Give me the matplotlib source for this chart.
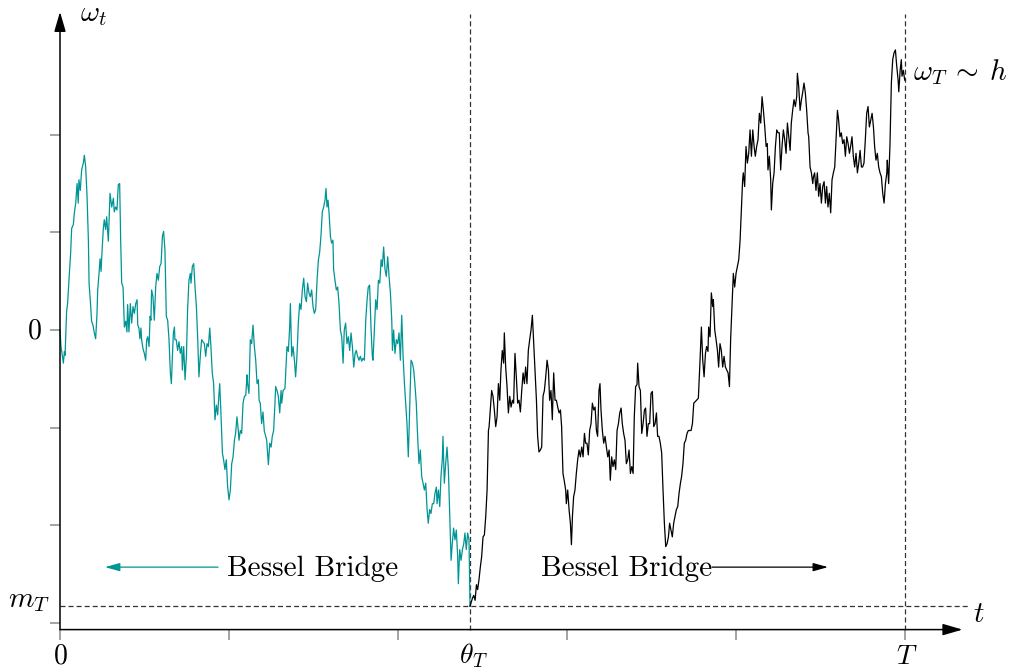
import matplotlib
matplotlib.use('Agg')
import matplotlib.pyplot as plt

plt.rcParams['mathtext.fontset'] = 'cm'
plt.rcParams['lines.scale_dashes'] = False

#----------------------------------------------------------------------------
# values (t in tick units, T = 5 ; omega in tick units)

T = 5.0
theta_T = 2.426
m_T = -2.83

# path before the minimum (teal)
t_before = [0.000, 0.006, 0.014, 0.020, 0.026, 0.030, 0.039, 0.045, 0.053, 0.063,
            0.069, 0.079, 0.085, 0.093, 0.101, 0.108, 0.112, 0.120, 0.128, 0.138,
            0.144, 0.152, 0.160, 0.168, 0.172, 0.179, 0.187, 0.195, 0.203, 0.211,
            0.219, 0.223, 0.231, 0.237, 0.243, 0.247, 0.256, 0.262, 0.270, 0.276,
            0.286, 0.296, 0.306, 0.316, 0.321, 0.329, 0.337, 0.345, 0.353, 0.359,
            0.365, 0.373, 0.381, 0.389, 0.396, 0.400, 0.408, 0.416, 0.424, 0.432,
            0.440, 0.448, 0.456, 0.460, 0.467, 0.473, 0.479, 0.483, 0.491, 0.499,
            0.507, 0.513, 0.519, 0.527, 0.533, 0.538, 0.542, 0.550, 0.558, 0.566,
            0.574, 0.582, 0.590, 0.598, 0.606, 0.613, 0.621, 0.629, 0.637, 0.645,
            0.653, 0.659, 0.665, 0.671, 0.677, 0.680, 0.688, 0.696, 0.704, 0.712,
            0.720, 0.724, 0.732, 0.740, 0.748, 0.755, 0.763, 0.771, 0.775, 0.783,
            0.791, 0.799, 0.807, 0.815, 0.822, 0.830, 0.838, 0.846, 0.854, 0.862,
            0.870, 0.878, 0.886, 0.893, 0.901, 0.909, 0.917, 0.925, 0.933, 0.937,
            0.945, 0.953, 0.961, 0.968, 0.976, 0.984, 0.992, 1.000, 1.008, 1.016,
            1.024, 1.032, 1.039, 1.047, 1.055, 1.059, 1.067, 1.075, 1.083, 1.091,
            1.099, 1.107, 1.110, 1.118, 1.126, 1.134, 1.142, 1.150, 1.158, 1.166,
            1.174, 1.178, 1.185, 1.193, 1.201, 1.209, 1.213, 1.223, 1.233, 1.241,
            1.249, 1.256, 1.264, 1.272, 1.276, 1.284, 1.292, 1.300, 1.308, 1.312,
            1.320, 1.331, 1.343, 1.351, 1.359, 1.363, 1.371, 1.379, 1.387, 1.394,
            1.402, 1.410, 1.418, 1.426, 1.434, 1.442, 1.450, 1.458, 1.465, 1.473,
            1.481, 1.489, 1.497, 1.505, 1.513, 1.521, 1.529, 1.536, 1.544, 1.552,
            1.560, 1.568, 1.574, 1.580, 1.586, 1.592, 1.600, 1.607, 1.615, 1.619,
            1.627, 1.635, 1.643, 1.651, 1.659, 1.667, 1.675, 1.682, 1.690, 1.698,
            1.706, 1.714, 1.722, 1.730, 1.738, 1.746, 1.753, 1.761, 1.769, 1.777,
            1.785, 1.793, 1.801, 1.809, 1.817, 1.824, 1.832, 1.840, 1.848, 1.852,
            1.860, 1.868, 1.876, 1.884, 1.892, 1.900, 1.907, 1.915, 1.923, 1.931,
            1.939, 1.947, 1.955, 1.963, 1.967, 1.974, 1.982, 1.990, 1.998, 2.006,
            2.014, 2.022, 2.030, 2.038, 2.045, 2.053, 2.061, 2.069, 2.077, 2.085,
            2.093, 2.101, 2.108, 2.116, 2.124, 2.132, 2.140, 2.148, 2.156, 2.164,
            2.172, 2.179, 2.187, 2.195, 2.203, 2.211, 2.219, 2.227, 2.231, 2.239,
            2.247, 2.254, 2.262, 2.266, 2.274, 2.282, 2.290, 2.298, 2.306, 2.314,
            2.321, 2.329, 2.337, 2.345, 2.353, 2.357, 2.365, 2.373, 2.381, 2.389,
            2.396, 2.404, 2.412, 2.420, 2.426]
w_before = [0.00, -0.17, -0.27, -0.34, -0.22, -0.26, 0.19, 0.27, 0.51, 0.79,
            1.04, 1.08, 1.20, 1.30, 1.50, 1.30, 1.54, 1.43, 1.64, 1.71,
            1.79, 1.67, 1.37, 0.92, 0.48, 0.31, 0.09, 0.05, -0.03, -0.09,
            0.17, 0.41, 0.58, 0.73, 0.60, 0.75, 1.03, 1.13, 1.03, 1.16,
            0.91, 1.40, 1.26, 1.35, 1.21, 1.26, 1.23, 1.49, 1.50, 0.92,
            0.48, 0.44, 0.03, 0.09, -0.02, 0.26, -0.02, 0.27, 0.07, 0.24,
            0.17, 0.27, 0.31, 0.05, 0.02, -0.09, 0.02, -0.10, -0.19, -0.24,
            -0.31, -0.10, -0.07, -0.17, 0.14, 0.10, 0.41, 0.34, 0.10, 0.44,
            0.58, 0.51, 0.65, 0.68, 0.96, 1.01, 0.82, 0.14, 0.10, -0.10,
            -0.44, -0.55, -0.27, -0.03, 0.03, -0.10, -0.10, -0.21, -0.12, -0.24,
            -0.17, -0.41, -0.17, -0.51, -0.27, 0.21, 0.51, 0.58, 0.48, 0.65,
            0.68, 0.44, 0.24, -0.10, -0.48, -0.27, -0.10, -0.12, -0.14, -0.27,
            -0.14, -0.17, 0.02, -0.17, -0.44, -0.55, -0.92, -0.77, -0.87, -0.75,
            -0.55, -0.89, -1.26, -1.33, -1.43, -1.33, -1.61, -1.74, -1.64, -1.37,
            -1.30, -1.13, -1.06, -0.89, -1.03, -1.13, -1.03, -1.06, -0.75, -0.68,
            -0.67, -0.46, -0.55, -0.65, -0.10, -0.14, 0.05, -0.17, -0.31, -0.55,
            -0.51, -0.72, -0.75, -0.96, -0.84, -1.04, -1.06, -1.13, -1.38, -1.16,
            -1.20, -1.09, -1.03, -0.75, -0.58, -0.62, -0.68, -0.85, -0.62, -0.75,
            -0.62, -0.60, -0.17, -0.22, 0.03, 0.27, -0.27, -0.17, -0.31, -0.48,
            -0.27, 0.07, 0.27, 0.21, 0.41, 0.53, 0.34, 0.29, 0.48, 0.38,
            0.34, 0.41, 0.24, 0.17, 0.21, 0.51, 0.72, 0.79, 0.96, 1.21,
            1.26, 1.33, 1.45, 1.26, 1.33, 1.20, 0.96, 0.89, 0.92, 0.62,
            0.51, 0.41, 0.44, 0.27, 0.00, -0.07, -0.34, 0.00, 0.07, -0.14,
            -0.07, -0.21, -0.03, -0.17, -0.38, -0.24, -0.21, -0.27, -0.31, -0.27,
            -0.32, -0.29, -0.31, 0.10, 0.31, 0.44, 0.46, 0.03, -0.27, -0.31,
            0.00, 0.31, 0.21, 0.51, 0.48, 0.72, 0.65, 0.85, 0.62, 0.55,
            0.75, 0.55, 0.38, 0.10, -0.21, 0.00, -0.24, -0.10, -0.14, -0.03,
            -0.31, 0.15, -0.27, -0.55, -0.75, -0.96, -1.30, -0.82, -0.31, -0.34,
            -0.41, -0.58, -0.75, -1.09, -1.37, -1.23, -1.50, -1.57, -1.64, -1.57,
            -1.84, -1.98, -1.84, -1.88, -1.78, -1.78, -1.67, -1.61, -1.78, -1.64,
            -1.81, -1.50, -1.33, -1.09, -1.57, -1.37, -1.20, -1.43, -1.88, -2.36,
            -2.19, -2.03, -2.15, -2.05, -2.32, -2.60, -2.25, -2.36, -2.25, -2.19,
            -2.08, -2.25, -2.08, -2.15, -2.83]

# path after the minimum (black)
t_after = [2.426, 2.440, 2.448, 2.456, 2.464, 2.471, 2.479, 2.487, 2.495, 2.503,
           2.511, 2.519, 2.527, 2.535, 2.539, 2.546, 2.554, 2.562, 2.570, 2.578,
           2.586, 2.594, 2.602, 2.609, 2.617, 2.625, 2.629, 2.637, 2.645, 2.653,
           2.661, 2.669, 2.677, 2.684, 2.692, 2.700, 2.708, 2.716, 2.724, 2.732,
           2.740, 2.748, 2.755, 2.763, 2.771, 2.779, 2.787, 2.795, 2.803, 2.811,
           2.819, 2.826, 2.834, 2.842, 2.850, 2.858, 2.866, 2.874, 2.882, 2.890,
           2.897, 2.905, 2.913, 2.921, 2.929, 2.937, 2.945, 2.953, 2.961, 2.968,
           2.976, 2.984, 2.992, 2.996, 3.004, 3.012, 3.020, 3.026, 3.032, 3.039,
           3.047, 3.055, 3.063, 3.071, 3.079, 3.087, 3.095, 3.103, 3.110, 3.118,
           3.126, 3.134, 3.142, 3.150, 3.158, 3.166, 3.174, 3.181, 3.189, 3.195,
           3.201, 3.209, 3.217, 3.225, 3.233, 3.241, 3.249, 3.256, 3.264, 3.272,
           3.280, 3.288, 3.296, 3.304, 3.312, 3.320, 3.327, 3.335, 3.343, 3.351,
           3.359, 3.367, 3.375, 3.383, 3.391, 3.398, 3.406, 3.414, 3.418, 3.426,
           3.434, 3.442, 3.450, 3.458, 3.465, 3.473, 3.481, 3.489, 3.497, 3.505,
           3.513, 3.521, 3.529, 3.536, 3.544, 3.552, 3.560, 3.568, 3.576, 3.584,
           3.592, 3.600, 3.607, 3.615, 3.623, 3.631, 3.639, 3.647, 3.655, 3.663,
           3.671, 3.678, 3.686, 3.694, 3.702, 3.710, 3.718, 3.726, 3.734, 3.742,
           3.750, 3.777, 3.787, 3.795, 3.803, 3.811, 3.819, 3.826, 3.834, 3.838,
           3.846, 3.854, 3.862, 3.866, 3.874, 3.882, 3.890, 3.897, 3.905, 3.913,
           3.921, 3.929, 3.937, 3.945, 3.953, 3.961, 3.968, 3.976, 3.984, 3.992,
           4.000, 4.008, 4.016, 4.024, 4.032, 4.039, 4.043, 4.051, 4.059, 4.067,
           4.075, 4.083, 4.091, 4.099, 4.107, 4.114, 4.122, 4.130, 4.138, 4.146,
           4.154, 4.162, 4.170, 4.178, 4.185, 4.189, 4.197, 4.205, 4.209, 4.217,
           4.225, 4.233, 4.241, 4.249, 4.256, 4.264, 4.272, 4.280, 4.288, 4.296,
           4.304, 4.312, 4.320, 4.327, 4.335, 4.343, 4.351, 4.359, 4.363, 4.371,
           4.379, 4.387, 4.394, 4.402, 4.410, 4.418, 4.426, 4.430, 4.438, 4.446,
           4.454, 4.458, 4.465, 4.473, 4.481, 4.489, 4.497, 4.505, 4.513, 4.521,
           4.529, 4.536, 4.544, 4.552, 4.560, 4.568, 4.576, 4.584, 4.592, 4.600,
           4.607, 4.615, 4.623, 4.631, 4.639, 4.647, 4.655, 4.663, 4.671, 4.678,
           4.686, 4.694, 4.702, 4.710, 4.718, 4.726, 4.734, 4.742, 4.749, 4.757,
           4.765, 4.773, 4.781, 4.789, 4.797, 4.805, 4.813, 4.820, 4.828, 4.836,
           4.844, 4.852, 4.860, 4.868, 4.876, 4.884, 4.892, 4.895, 4.903, 4.911,
           4.919, 4.927, 4.935, 4.943, 4.951, 4.959, 4.963, 4.971, 4.978, 4.982,
           4.990, 4.998]
w_after = [-2.83, -2.75, -2.72, -2.77, -2.61, -2.66, -2.56, -2.43, -2.32, -2.12,
           -2.10, -1.91, -1.64, -1.03, -0.99, -0.82, -0.62, -0.68, -0.82, -0.99,
           -0.89, -0.55, -0.72, -0.41, -0.21, -0.34, -0.03, -0.38, -0.58, -0.85,
           -0.68, -0.79, -0.72, -0.75, -0.24, -0.48, -0.75, -0.72, -0.84, -0.62,
           -0.44, -0.55, -0.38, -0.55, -0.21, -0.10, 0.00, 0.15, -0.14, -0.44,
           -0.72, -1.09, -1.25, -1.23, -1.20, -0.68, -0.62, -0.48, -0.31, -0.41,
           -0.72, -0.62, -0.92, -0.44, -0.72, -0.72, -0.79, -0.85, -0.82, -0.99,
           -1.47, -1.55, -1.64, -1.78, -1.64, -1.84, -1.98, -2.20, -1.91, -1.71,
           -1.64, -1.47, -1.33, -1.23, -1.30, -1.20, -1.30, -1.06, -1.16, -1.16,
           -1.28, -1.03, -0.96, -0.75, -0.82, -0.79, -1.03, -1.09, -0.62, -0.55,
           -0.82, -1.03, -1.16, -1.09, -1.20, -1.30, -1.23, -1.54, -1.30, -1.40,
           -1.33, -1.43, -1.03, -0.96, -0.85, -0.80, -0.96, -1.06, -1.13, -1.37,
           -1.33, -1.23, -1.47, -1.40, -1.47, -0.89, -0.58, -0.56, -0.34, -0.58,
           -0.62, -1.06, -0.96, -0.82, -0.80, -1.09, -0.96, -0.96, -0.65, -0.63,
           -0.99, -0.96, -0.85, -1.09, -1.09, -1.16, -1.26, -1.64, -1.98, -2.22,
           -2.19, -2.12, -1.98, -2.05, -2.12, -1.98, -1.91, -1.84, -1.81, -1.67,
           -1.57, -1.50, -1.37, -1.16, -1.13, -1.06, -1.03, -1.03, -1.03, -0.96,
           -0.75, -0.70, -0.31, 0.03, -0.31, -0.48, -0.24, -0.17, -0.22, 0.03,
           -0.07, 0.38, 0.24, 0.31, 0.00, -0.10, -0.21, -0.38, -0.14, -0.21,
           -0.38, -0.27, -0.38, -0.41, -0.44, -0.58, -0.10, 0.24, 0.58, 0.44,
           0.58, 0.65, 0.72, 0.92, 1.26, 1.54, 1.61, 1.47, 1.88, 1.71,
           1.81, 2.05, 1.78, 2.05, 1.88, 1.78, 1.88, 1.95, 2.22, 2.12,
           2.39, 2.25, 2.08, 1.88, 1.91, 1.64, 1.78, 1.54, 1.23, 1.50,
           1.61, 1.88, 2.05, 2.02, 2.02, 1.64, 1.88, 2.05, 1.95, 1.81,
           2.12, 1.98, 1.84, 2.12, 2.25, 2.36, 2.29, 2.39, 2.63, 2.49,
           2.25, 2.36, 2.43, 2.53, 2.43, 2.25, 2.02, 1.98, 1.67, 1.61,
           1.50, 1.57, 1.61, 1.43, 1.61, 1.37, 1.50, 1.30, 1.47, 1.52,
           1.30, 1.47, 1.26, 1.40, 1.20, 1.54, 1.61, 1.67, 1.95, 2.25,
           2.15, 1.98, 2.02, 1.91, 1.95, 1.78, 1.98, 1.91, 1.81, 1.88,
           1.98, 1.78, 1.67, 1.81, 1.61, 1.71, 1.84, 1.67, 1.67, 1.71,
           1.95, 2.22, 2.29, 2.08, 2.15, 2.22, 2.08, 1.88, 1.74, 1.81,
           1.67, 1.61, 1.57, 1.40, 1.30, 1.50, 1.61, 1.74, 1.50, 1.91,
           2.53, 2.77, 2.84, 2.87, 2.70, 2.56, 2.44, 2.66, 2.77, 2.60,
           2.66, 2.56]

x_ticks = [0, 1, 2, 3, 4, 5]
y_ticks = [-3, -2, -1, 0, 1, 2]

#----------------------------------------------------------------------------

TEAL = '#009494'
AXIS_Y = -3.07      # height of the horizontal axis
TOP_Y = 3.26        # tip of the vertical axis
FS = 20

fig = plt.figure(figsize=(10.1, 6.7), dpi=100)
ax = fig.add_axes([0, 0, 1, 1])
ax.set_xlim(-0.355, 5.621)
ax.set_ylim(-3.484, 3.381)

for s in ax.spines.values():
    s.set_visible(False)
ax.spines['left'].set_position(('data', 0))
ax.spines['bottom'].set_position(('data', AXIS_Y))
ax.set_xticks(x_ticks, labels=[''] * len(x_ticks))
ax.set_yticks(y_ticks, labels=[''] * len(y_ticks))
ax.tick_params(direction='out', length=7, width=1.1, color='#8a8a8a',
               top=False, right=False)

# dashed guides
dash = dict(color='#333333', lw=0.9, dashes=(3.6, 2.2), zorder=1)
ax.plot([0, 5.37], [m_T, m_T], **dash)
ax.plot([theta_T, theta_T], [AXIS_Y, 3.24], **dash)
ax.plot([T, T], [AXIS_Y, 3.24], **dash)

# the path
ax.plot(t_before, w_before, color=TEAL, lw=0.9, zorder=3)
ax.plot(t_after, w_after, color='black', lw=0.9, zorder=3)

# axes with arrow heads
axis_arrow = dict(arrowstyle='-|>,head_length=1.2,head_width=0.35',
                  lw=1.1, color='black', shrinkA=0, shrinkB=0)
ax.annotate('', xy=(0, TOP_Y), xytext=(0, AXIS_Y), arrowprops=axis_arrow)
ax.annotate('', xy=(5.34, AXIS_Y), xytext=(0, AXIS_Y), arrowprops=axis_arrow)

# Bessel bridge arrows and text
ax.annotate('', xy=(0.266, -2.43), xytext=(0.935, -2.43),
            arrowprops=dict(arrowstyle='-|>,head_length=0.9,head_width=0.25',
                            lw=0.9, color=TEAL, shrinkA=0, shrinkB=0))
ax.annotate('', xy=(4.544, -2.43), xytext=(3.858, -2.43),
            arrowprops=dict(arrowstyle='-|>,head_length=0.9,head_width=0.25',
                            lw=0.9, color='black', shrinkA=0, shrinkB=0))
ax.text(0.988, -2.52, 'Bessel Bridge', family='cmr10', fontsize=21,
        ha='left', va='baseline')
ax.text(2.846, -2.52, 'Bessel Bridge', family='cmr10', fontsize=21,
        ha='left', va='baseline')

# labels
ax.text(0.118, 3.17, r'$\omega_t$', fontsize=21, va='baseline')
ax.text(5.047, 2.56, r'$\omega_T\:\sim\:h$', fontsize=21, va='baseline')
ax.text(5.40, -2.99, r'$t$', fontsize=21, va='baseline')
ax.text(-0.059, -2.84, r'$m_T$', fontsize=21, ha='right', va='baseline')
ax.text(-0.107, -0.092, r'$0$', fontsize=FS, ha='right', va='baseline')
ax.text(0, -3.42, r'$0$', fontsize=FS, ha='center', va='baseline')
ax.text(theta_T + 0.02, -3.42, r'$\theta_T$', fontsize=FS, ha='center', va='baseline')
ax.text(T + 0.01, -3.42, r'$T$', fontsize=FS, ha='center', va='baseline')

fig.savefig('out.png', dpi=100)
